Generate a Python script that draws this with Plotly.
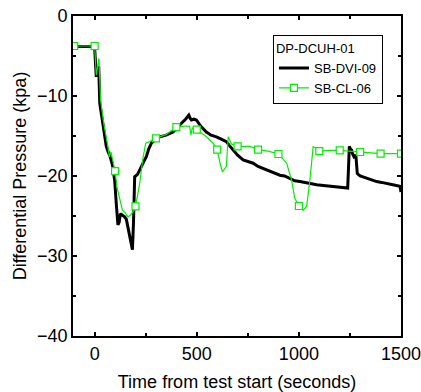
import plotly.graph_objects as go

# SB-DVI-09 (black)
t_dvi = [-106, -60, -8, 0, 8, 14, 20, 25, 40, 57, 66, 74, 86, 98, 106, 114, 120, 126, 136, 147, 155, 163, 175, 185, 190, 196, 210, 221, 237, 253, 265, 278, 300, 319, 350, 384, 405, 425, 445, 461, 468, 474, 486, 498, 520, 547, 570, 596, 620, 645, 660, 678, 700, 727, 750, 776, 800, 841, 870, 907, 930, 956, 980, 1005, 1040, 1087, 1120, 1168, 1200, 1239, 1243, 1247, 1252, 1258, 1264, 1270, 1279, 1283, 1286, 1300, 1332, 1355, 1381, 1405, 1430, 1460, 1495, 1500]
v_dvi = [-3.8, -3.8, -3.8, -4.0, -7.6, -6.8, -6.3, -10.9, -13.5, -16.3, -17.0, -17.4, -18.5, -20.5, -23.5, -26.1, -25.8, -24.7, -24.9, -25.1, -25.4, -26.3, -27.8, -29.2, -26.0, -20.1, -19.8, -19.3, -18.4, -17.6, -16.6, -15.9, -15.4, -15.1, -14.9, -14.5, -14.0, -13.4, -12.9, -12.4, -12.8, -13.0, -12.9, -13.0, -13.8, -14.5, -14.9, -15.1, -15.4, -15.7, -16.2, -16.75, -17.4, -18.0, -18.2, -18.4, -18.8, -19.25, -19.5, -19.9, -20.0, -20.3, -20.6, -20.7, -20.9, -21.1, -21.2, -21.3, -21.4, -21.5, -19.0, -16.3, -16.6, -16.75, -17.3, -17.6, -17.4, -18.5, -19.7, -20.0, -20.3, -20.5, -20.7, -20.8, -20.9, -21.1, -21.3, -22.0]

# SB-CL-06 (green), full trace
t_cl = [-100, -50, 0, 8, 14, 21, 29, 45, 65, 72, 80, 100, 110, 123, 136, 150, 163, 175, 190, 200, 210, 221, 235, 250, 270, 300, 350, 400, 449, 465, 471, 478, 500, 547, 580, 600, 615, 626, 645, 650, 654, 670, 700, 760, 800, 850, 900, 940, 964, 980, 1000, 1021, 1038, 1054, 1070, 1100, 1150, 1200, 1250, 1300, 1350, 1400, 1450, 1500]
v_cl = [-3.75, -3.75, -3.75, -7.4, -6.5, -5.3, -10.5, -13.5, -16.3, -17.6, -17.0, -19.4, -21.5, -23.0, -24.25, -24.6, -25.1, -24.9, -24.4, -23.8, -22.4, -20.9, -18.0, -15.9, -15.7, -15.3, -14.8, -13.9, -13.75, -13.8, -14.9, -14.0, -14.2, -15.1, -15.9, -16.7, -18.5, -19.5, -18.8, -16.5, -15.1, -16.0, -16.3, -16.3, -16.7, -16.9, -17.25, -18.4, -20.5, -22.8, -23.75, -24.3, -23.8, -20.5, -16.3, -16.9, -16.8, -16.8, -16.9, -17.0, -17.1, -17.2, -17.2, -17.2]
# times at which the green series carries a square marker
marker_t = [-100, 0, 100, 200, 300, 400, 500, 600, 700, 800, 900, 1000, 1100, 1200, 1300, 1400, 1500]

x_ticks = [0, 500, 1000, 1500]
x_minor = [250, 750, 1250]
y_ticks = [-40, -30, -20, -10, 0]
y_minor = [-35, -25, -15, -5]

GREEN = "#00ee00"
FONT = "Liberation Sans, Arial, sans-serif"

fill_cols = ["white" if t in marker_t else "rgba(0,0,0,0)" for t in t_cl]
edge_cols = [GREEN if t in marker_t else "rgba(0,0,0,0)" for t in t_cl]

fig = go.Figure()
fig.add_trace(go.Scatter(x=t_dvi, y=v_dvi, mode="lines", name="SB-DVI-09",
                         line=dict(color="black", width=3)))
fig.add_trace(go.Scatter(x=t_cl, y=v_cl, mode="lines+markers", name="SB-CL-06",
                         line=dict(color=GREEN, width=1.2),
                         marker=dict(symbol="square", size=7, color=fill_cols,
                                     line=dict(width=1.2, color=edge_cols))))
# invisible trace on mirrored axes (inside ticks on top/right)
fig.add_trace(go.Scatter(x=[None], y=[None], xaxis="x2", yaxis="y2", showlegend=False, hoverinfo="skip"))

tick_common = dict(showgrid=False, zeroline=False, ticks="inside", ticklen=4, tickwidth=1.5,
                   tickcolor="black", automargin=False)
minor_x = dict(tickvals=x_minor, ticks="inside", ticklen=3, tickwidth=1.5, tickcolor="black")
minor_y = dict(tickvals=y_minor, ticks="inside", ticklen=3, tickwidth=1.5, tickcolor="black")
TF = dict(family=FONT, size=18, color="black")

fig.update_layout(
    xaxis=dict(range=[-106, 1500], tickvals=x_ticks, minor=minor_x,
               showline=True, linecolor="black", linewidth=1.8, mirror=True,
               ticklabeloverflow="allow",
               tickfont=TF, title=dict(text="Time from test start (seconds)", font=TF, standoff=14),
               **tick_common),
    yaxis=dict(range=[-40, 0], tickvals=y_ticks, minor=minor_y,
               showline=True, linecolor="black", linewidth=1.8, mirror=True,
               ticklabeloverflow="allow",
               tickfont=TF, title=dict(text="Differential Pressure (kpa)", font=TF, standoff=6),
               **tick_common),
    xaxis2=dict(range=[-106, 1500], overlaying="x", side="top", anchor="y",
                tickvals=x_ticks, showticklabels=False, minor=minor_x, **tick_common),
    yaxis2=dict(range=[-40, 0], overlaying="y", side="right", anchor="x",
                tickvals=y_ticks, showticklabels=False, minor=minor_y, **tick_common),
    width=421, height=392,
    margin=dict(l=73, r=20, t=16, b=56),
    plot_bgcolor="white", paper_bgcolor="white",
    font=dict(family=FONT, color="black"),
    legend=dict(x=0.945, y=0.94, xanchor="right", yanchor="top",
                title=dict(text="DP-DCUH-01", font=dict(family=FONT, size=13)),
                font=dict(family=FONT, size=13), bordercolor="black", borderwidth=1,
                bgcolor="white", itemwidth=30, tracegroupgap=0),
)

fig.write_html("out.html")
